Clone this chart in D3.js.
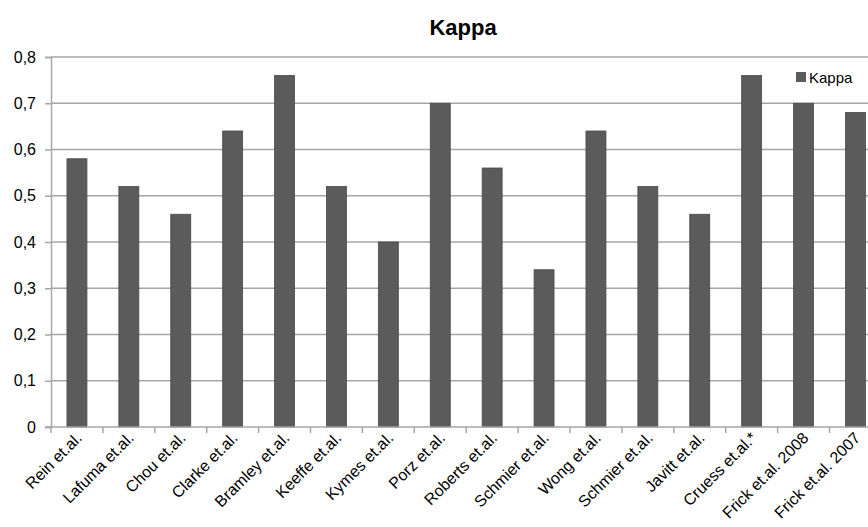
<!DOCTYPE html>
<html>
<head>
<meta charset="utf-8">
<script src="https://cdn.jsdelivr.net/npm/d3@7"></script>
<style>
	body { margin: 0; background: #fff; }
	text { font-family: "Liberation Sans", Arial, sans-serif; fill: #000; }
</style>
</head>
<body>
<svg id="chart" width="868" height="527"></svg>
<script>
var studies = ["Rein et.al.", "Lafuma et.al.", "Chou et.al.", "Clarke et.al.", "Bramley et.al.",
	"Keeffe et.al.", "Kymes et.al.", "Porz et.al.", "Roberts et.al.", "Schmier et.al.",
	"Wong et.al.", "Schmier et.al.", "Javitt et.al.", "Cruess et.al.*", "Frick et.al. 2008", "Frick et.al. 2007"];
var kappa = [0.58, 0.52, 0.46, 0.64, 0.76, 0.52, 0.40, 0.70, 0.56, 0.34, 0.64, 0.52, 0.46, 0.76, 0.70, 0.68];
var yTicks = [0, 0.1, 0.2, 0.3, 0.4, 0.5, 0.6, 0.7, 0.8];
var seriesName = "Kappa";

var svg = d3.select("#chart");
var plotLeft = 51, plotRight = 881.4, plotTop = 57, plotBottom = 427;
var idx = d3.range(studies.length);

var xScale = d3.scaleBand().domain(idx).range([plotLeft, plotRight]).paddingInner(0.615).paddingOuter(0.3075);
var xOuter = d3.scaleBand().domain(idx).range([plotLeft, plotRight]);
var yScale = d3.scaleLinear().domain([0, 0.8]).range([plotBottom, plotTop]);

// title
svg.append("text")
	.attr("x", 463).attr("y", 35)
	.attr("text-anchor", "middle")
	.style("font-size", "22px").style("font-weight", "bold")
	.text("Kappa");

// gridlines
svg.append("g").selectAll("line")
	.data(yTicks.filter(function(d) { return d > 0; }))
	.enter().append("line")
	.attr("x1", plotLeft).attr("x2", 868)
	.attr("y1", function(d) { return yScale(d); })
	.attr("y2", function(d) { return yScale(d); })
	.attr("stroke", "#a6a6a6").attr("stroke-width", 1.5);

// y axis
var yAxis = svg.append("g")
	.attr("transform", "translate(" + plotLeft + ",0)")
	.call(d3.axisLeft(yScale).tickValues(yTicks).tickSize(6).tickPadding(9)
		.tickFormat(function(d) { return d === 0 ? "0" : d.toFixed(1).replace(".", ","); }));
yAxis.select(".domain").attr("stroke", "#a6a6a6").attr("stroke-width", 1.5);
yAxis.selectAll(".tick line").attr("stroke", "#a6a6a6").attr("stroke-width", 1.5);
yAxis.selectAll(".tick text").style("font-size", "16px").attr("fill", "#000");

// bars
svg.append("g").selectAll("rect")
	.data(kappa)
	.enter().append("rect")
	.attr("x", function(d, i) { return xScale(i); })
	.attr("width", xScale.bandwidth())
	.attr("y", function(d) { return yScale(d); })
	.attr("height", function(d) { return plotBottom - yScale(d); })
	.attr("fill", "#5b5b5b")
	.attr("stroke", "#4a4a4a").attr("stroke-width", 0.8);

// x axis line + boundary ticks
svg.append("line")
	.attr("x1", plotLeft - 6).attr("x2", 868)
	.attr("y1", plotBottom).attr("y2", plotBottom)
	.attr("stroke", "#a6a6a6").attr("stroke-width", 1.5);
svg.append("g").selectAll("line")
	.data(idx.concat([studies.length]))
	.enter().append("line")
	.attr("x1", function(i) { return i < studies.length ? xOuter(i) : plotRight; })
	.attr("x2", function(i) { return i < studies.length ? xOuter(i) : plotRight; })
	.attr("y1", plotBottom).attr("y2", plotBottom + 6)
	.attr("stroke", "#a6a6a6").attr("stroke-width", 1.5);

// category labels
svg.append("g").selectAll("text")
	.data(idx)
	.enter().append("text")
	.attr("transform", function(i) {
		return "translate(" + (xScale(i) + xScale.bandwidth() / 2 + 2) + "," + (plotBottom + 8) + ") rotate(-45)";
	})
	.attr("text-anchor", "end")
	.attr("dy", "0.35em")
	.style("font-size", "16px")
	.text(function(i) { return studies[i]; });

// legend
svg.append("rect")
	.attr("x", 796).attr("y", 72).attr("width", 10).attr("height", 10)
	.attr("fill", "#5b5b5b");
svg.append("text")
	.attr("x", 809).attr("y", 83)
	.style("font-size", "15px")
	.text(seriesName);
</script>
</body>
</html>
